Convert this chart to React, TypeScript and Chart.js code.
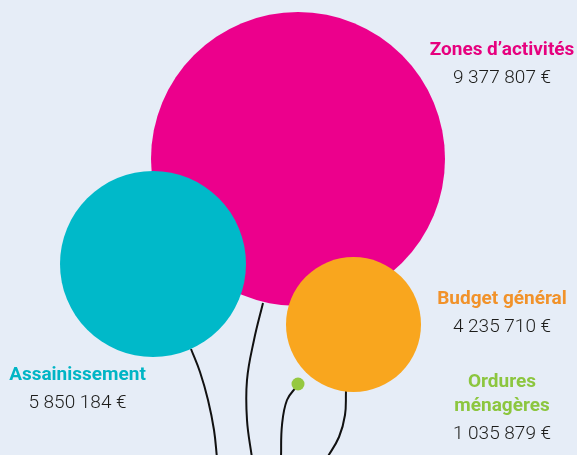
import React, { useEffect, useRef } from "react";
import { Chart, registerables } from "chart.js";

Chart.register(...registerables);

// Budget categories and their amounts (€)
const categories = ["Zones d’activités", "Assainissement", "Budget général", "Ordures ménagères"];
const amounts = [9377807, 5850184, 4235710, 1035879];
const amountLabels = ["9 377 807 €", "5 850 184 €", "4 235 710 €", "1 035 879 €"];

// Balloon centres and sizes (chart units)
const balloonX = [298, 153, 353.5, 298];
const balloonY = [159, 264, 324.5, 384];
const balloonR = [147, 93, 67.5, 6.5];
const balloonColors = ["#ec008c", "#00b9c9", "#f9a61e", "#95c840"];
const titleColors = ["#e6007e", "#00b5c5", "#f1922a", "#8cc63f"];

// Balloon strings (chart units)
const stringZonesX = [263, 254, 247, 247, 252];
const stringZonesY = [303, 340, 380, 420, 458];
const stringAssX = [191, 200, 208, 214, 217];
const stringAssY = [349, 372, 400, 430, 458];
const stringOrdX = [297, 287, 282, 281];
const stringOrdY = [386, 400, 425, 458];
const stringBudX = [346, 345, 339, 327];
const stringBudY = [391, 415, 437, 458];

// Label anchors (chart units): centre x, baseline of first line
const labelX = [502, 77.5, 502, 502];
const labelY = [55, 380, 303.5, 386.5];

const W = 577;
const H = 455;

function pts(xs: number[], ys: number[]) {
  return xs.map((x, i) => ({ x, y: ys[i] }));
}

export default function App() {
  const ref = useRef<HTMLCanvasElement | null>(null);

  useEffect(() => {
    if (!ref.current) return;
    const stringStyle = {
      type: "line" as const,
      borderColor: "#111111",
      borderWidth: 2,
      pointRadius: 0,
      tension: 0.4,
      fill: false,
      order: 2,
    };

    const labelsPlugin = {
      id: "balloonLabels",
      afterDatasetsDraw(chart: any) {
        const { ctx, scales } = chart;
        const xs = scales.x;
        const ys = scales.y;
        ctx.save();
        ctx.textAlign = "center";
        ctx.textBaseline = "alphabetic";
        categories.forEach((cat, i) => {
          const cx = xs.getPixelForValue(labelX[i]);
          let by = ys.getPixelForValue(labelY[i]);
          const lines = i === 3 ? ["Ordures", "ménagères"] : [cat];
          ctx.font = "bold 19px Roboto";
          ctx.fillStyle = titleColors[i];
          lines.forEach((ln, k) => {
            if (k > 0) by += 24;
            ctx.fillText(ln, cx, by);
          });
          ctx.font = "300 19px Roboto";
          ctx.fillStyle = "#1d1d1b";
          ctx.fillText(amountLabels[i], cx, by + 28);
        });
        ctx.restore();
      },
    };

    const chart = new Chart(ref.current, {
      type: "bubble",
      data: {
        datasets: [
          {
            type: "bubble",
            label: "Budgets",
            data: balloonX.map((x, i) => ({ x, y: balloonY[i], r: balloonR[i], v: amounts[i] })),
            backgroundColor: balloonColors,
            borderWidth: 0,
            hoverRadius: 0,
            clip: false,
            order: 1,
          } as any,
          { ...stringStyle, label: "s1", data: pts(stringZonesX, stringZonesY) } as any,
          { ...stringStyle, label: "s2", data: pts(stringAssX, stringAssY) } as any,
          { ...stringStyle, label: "s3", data: pts(stringOrdX, stringOrdY) } as any,
          { ...stringStyle, label: "s4", data: pts(stringBudX, stringBudY) } as any,
        ],
      },
      options: {
        responsive: false,
        animation: false,
        layout: { padding: 0, autoPadding: false },
        plugins: { legend: { display: false }, tooltip: { enabled: false } },
        scales: {
          x: { type: "linear", min: 0, max: W, display: false },
          y: { type: "linear", min: 0, max: H, reverse: true, display: false },
        },
      },
      plugins: [labelsPlugin],
    });
    return () => chart.destroy();
  }, []);

  return (
    <div style={{ position: "fixed", left: 0, top: 0, width: W, height: H, background: "#e6edf7" }}>
      <canvas ref={ref} width={W} height={H} style={{ display: "block", width: W, height: H }} />
    </div>
  );
}
